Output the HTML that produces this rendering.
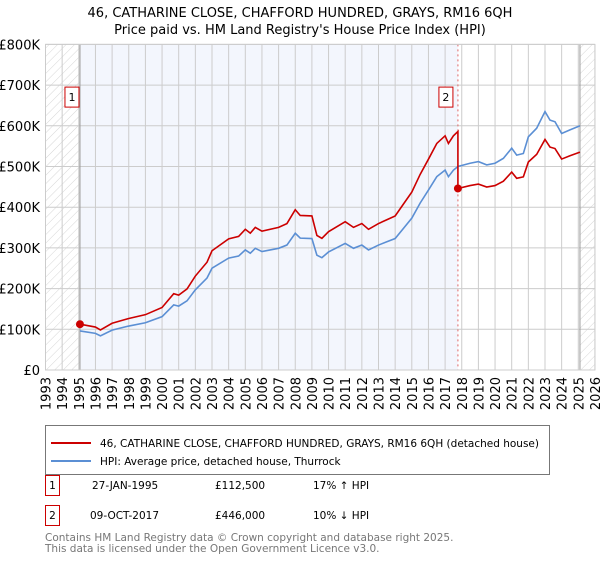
<!DOCTYPE html>
<html><head><meta charset="utf-8"><style>
body{margin:0;background:#fff;font-family:"DejaVu Sans","Liberation Sans",sans-serif;}
svg text{font-family:"DejaVu Sans","Liberation Sans",sans-serif;}
</style></head><body>
<svg id="chart" width="600" height="560" xmlns="http://www.w3.org/2000/svg">
<defs><pattern id="hatch" width="6" height="6" patternUnits="userSpaceOnUse" patternTransform="rotate(45)"><line x1="0" y1="0" x2="0" y2="6" stroke="#ccc" stroke-width="0.8"/></pattern></defs>
<text x="300" y="17" text-anchor="middle" font-size="13">46, CATHARINE CLOSE, CHAFFORD HUNDRED, GRAYS, RM16 6QH</text>
<text x="300" y="34" text-anchor="middle" font-size="13">Price paid vs. HM Land Registry's House Price Index (HPI)</text>
<g id="plot"></g>
<g>
<rect x="45.5" y="425.5" width="504" height="49" fill="#fff" stroke="#777"/>
<line x1="51" y1="443" x2="91" y2="443" stroke="#cc0000" stroke-width="2"/>
<text x="100" y="447" font-size="10.5" textLength="439" lengthAdjust="spacingAndGlyphs">46, CATHARINE CLOSE, CHAFFORD HUNDRED, GRAYS, RM16 6QH (detached house)</text>
<line x1="51" y1="461" x2="91" y2="461" stroke="#5b8fd4" stroke-width="2"/>
<text x="100" y="465" font-size="10.5">HPI: Average price, detached house, Thurrock</text>
</g>
<g font-size="10.5">
<rect x="45.5" y="475.5" width="14" height="20" fill="#fff" stroke="#cc0000"/><text x="52.5" y="489" text-anchor="middle">1</text>
<text x="92" y="489">27-JAN-1995</text><text x="215" y="489">£112,500</text><text x="313" y="489">17% ↑ HPI</text>
<rect x="45.5" y="505.5" width="14" height="20" fill="#fff" stroke="#cc0000"/><text x="52.5" y="519" text-anchor="middle">2</text>
<text x="90" y="519">09-OCT-2017</text><text x="215" y="519">£446,000</text><text x="313" y="519">10% ↓ HPI</text>
</g>
<text x="45" y="541" font-size="10.5" fill="#777">Contains HM Land Registry data © Crown copyright and database right 2025.</text>
<text x="45" y="552" font-size="10.5" fill="#777">This data is licensed under the Open Government Licence v3.0.</text>
</svg>
<script>
const hpiYears=[1995.07,1996.0,1996.3,1997,1998,1999,2000,2000.7,2001,2001.5,2002,2002.7,2003,2004,2004.6,2005,2005.3,2005.6,2006,2007,2007.5,2008,2008.3,2009,2009.3,2009.6,2010,2011,2011.5,2012,2012.4,2013,2013.5,2014,2014.5,2015,2015.5,2016,2016.5,2017,2017.2,2017.5,2017.77,2018.5,2019,2019.5,2020,2020.5,2021,2021.3,2021.7,2022,2022.5,2023,2023.3,2023.6,2024,2024.5,2025.1];
const hpiValues=[96,90,84,98,108,116,131,160,157,170,197,226,250,275,280,295,287,299,291,299,307,336,324,323,282,276,290,311,299,307,295,307,315,323,348,373,410,442,475,491,475,491,500,508,512,504,508,520,545,528,532,573,594,635,614,610,581,590,600];
const saleYears=[1995.07,2017.77];
const salePrices=[112.5,446];
const yTicks=[0,100,200,300,400,500,600,700,800];
const yTickLabels=["£0","£100K","£200K","£300K","£400K","£500K","£600K","£700K","£800K"];
const xTicks=[];for(let y=1993;y<=2026;y++)xTicks.push(y);
const X=y=>45.5+(y-1993)*16.65, Y=v=>370-v*0.407;
const ns="http://www.w3.org/2000/svg", g=document.getElementById('plot');
function mk(t,a){const e=document.createElementNS(ns,t);for(const k in a)e.setAttribute(k,a[k]);g.appendChild(e);return e;}
let e;
e=mk('rect',{x:X(1993),y:Y(800),width:X(2026)-X(1993),height:Y(0)-Y(800),fill:'#fff'});

e=mk('rect',{x:X(saleYears[0]),y:Y(800),width:X(saleYears[1])-X(saleYears[0]),height:Y(0)-Y(800),fill:'#f3f6fd'});

e=mk('rect',{x:X(1993),y:Y(800),width:X(saleYears[0])-X(1993),height:Y(0)-Y(800),fill:'url(#hatch)'});

e=mk('rect',{x:X(2025.1),y:Y(800),width:X(2026)-X(2025.1),height:Y(0)-Y(800),fill:'url(#hatch)'});

yTicks.forEach((v,i)=>{
 e=mk('line',{x1:X(1993),x2:X(2026),y1:Y(v),y2:Y(v),stroke:'#ccc'});
 
 e=mk('text',{x:40,y:Y(v)+5,'text-anchor':'end','font-size':13});e.textContent=yTickLabels[i];
 
});
xTicks.forEach(y=>{
 e=mk('line',{x1:X(y),x2:X(y),y1:Y(800),y2:Y(0),stroke:'#ccc'});
 
 e=mk('text',{x:0,y:0,'font-size':13,'text-anchor':'end',transform:`translate(${X(y)+5},377) rotate(-90)`});e.textContent=y;
 
});
e=mk('line',{x1:X(saleYears[0]),x2:X(saleYears[0]),y1:Y(800),y2:Y(0),stroke:'#999'});

e=mk('line',{x1:X(saleYears[1]),x2:X(saleYears[1]),y1:Y(800),y2:Y(0),stroke:'#e06666','stroke-dasharray':'2,3'});

e=mk('line',{x1:X(2025.1),x2:X(2025.1),y1:Y(800),y2:Y(0),stroke:'#999'});

function interp(t){for(let i=0;i<hpiYears.length-1;i++)if(t<=hpiYears[i+1])return hpiValues[i]+(hpiValues[i+1]-hpiValues[i])*(t-hpiYears[i])/(hpiYears[i+1]-hpiYears[i]);return hpiValues[hpiValues.length-1];}
const r1=salePrices[0]/interp(saleYears[0]), r2=salePrices[1]/interp(saleYears[1]);
let red='';hpiYears.forEach((t,i)=>{if(t<saleYears[1])red+=(red?'L':'M')+X(t)+','+Y(hpiValues[i]*r1)+' ';});
red+='L'+X(saleYears[1])+','+Y(interp(saleYears[1])*r1)+' L'+X(saleYears[1])+','+Y(salePrices[1])+' ';
hpiYears.forEach((t,i)=>{if(t>saleYears[1])red+='L'+X(t)+','+Y(hpiValues[i]*r2)+' ';});
let blue='';hpiYears.forEach((t,i)=>{blue+=(i?'L':'M')+X(t)+','+Y(hpiValues[i])+' ';});
e=mk('path',{d:blue,fill:'none',stroke:'#5b8fd4','stroke-width':1.6});

e=mk('path',{d:red,fill:'none',stroke:'#cc0000','stroke-width':1.6});

saleYears.forEach((t,i)=>{
 e=mk('circle',{cx:X(t),cy:Y(salePrices[i]),r:4,fill:'#cc0000'});
 
 const bx=X(t)-(i?12:8)-7;
 e=mk('rect',{x:bx,y:Y(700)+2,width:14,height:20,fill:'#fff',stroke:'#cc0000'});
 
 e=mk('text',{x:bx+7,y:Y(700)+16,'text-anchor':'middle','font-size':11});e.textContent=i+1;
 
});
e=mk('rect',{x:X(1993),y:Y(800),width:X(2026)-X(1993),height:Y(0)-Y(800),fill:'none',stroke:'#ccc'});

</script>
</body></html>
